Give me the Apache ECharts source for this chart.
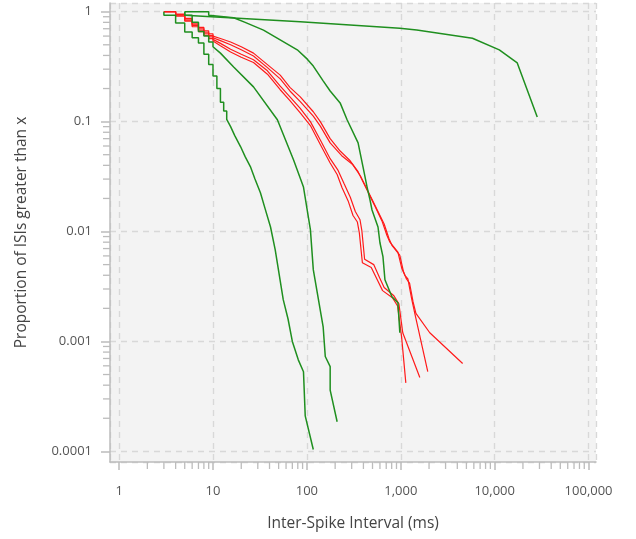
<!DOCTYPE html>
<html>
<head>
<meta charset="utf-8">
<script src="https://cdn.jsdelivr.net/npm/echarts@6/dist/echarts.min.js"></script>
<style>
html,body{margin:0;padding:0;background:#fff;}
#c{width:636px;height:539px;}
</style>
</head>
<body>
<div id="c"></div>
<script>
// ---- axis ranges / ticks ----
const X_MIN = 0.8, X_MAX = 120000;
const Y_MIN = 0.00008, Y_MAX = 1.2;
const xMinorTicks = [2,3,4,5,6,7,8,9,20,30,40,50,60,70,80,90,200,300,400,500,600,700,800,900,
  2000,3000,4000,5000,6000,7000,8000,9000,20000,30000,40000,50000,60000,70000,80000,90000];
const yMinorTicks = [0.0002,0.0003,0.0004,0.0005,0.0006,0.0007,0.0008,0.0009,
  0.002,0.003,0.004,0.005,0.006,0.007,0.008,0.009,
  0.02,0.03,0.04,0.05,0.06,0.07,0.08,0.09,
  0.2,0.3,0.4,0.5,0.6,0.7,0.8,0.9];

// ---- green series (survival curves of ISIs) ----
const green1 = [[5,1],[5,0.93],[85,0.81],[977,0.706],[1480,0.682],[5800,0.573],[11200,0.449],[17400,0.342],[28400,0.11]];
const green2 = [[5,1],[9,1],[9,0.93],[16.6,0.88],[22,0.8],[34.5,0.68],[79,0.45],[101,0.37],[117,0.32],[149,0.235],[177,0.19],
  [226,0.148],[268,0.104],[351,0.064],[396,0.0387],[437,0.0255],[470,0.0194],[494,0.0157],[572,0.011],[600,0.0079],
  [646,0.0059],[678,0.00364],[805,0.00255],[932,0.00225],[977,0.0012]];
const green3 = [[5,1],[5,0.93],[6,0.93],[6,0.8],[7,0.8],[7,0.66],[8,0.66],[8,0.6],[9,0.6],[9,0.53],[10,0.53],[10,0.48],[12,0.42],
  [16.6,0.314],[27,0.207],[48.5,0.104],[72,0.045],[92,0.0254],[109,0.0104],[117,0.0045],[149,0.00136],[157,0.00073],
  [177,0.00059],[177,0.00036],[210,0.000186]];
const green4 = [[3,1],[3,0.93],[4,0.93],[4,0.79],[5,0.79],[5,0.654],[6,0.654],[6,0.58],[7,0.58],[7,0.52],[8,0.52],[8,0.41],
  [9,0.41],[9,0.33],[10,0.33],[10,0.26],[11,0.26],[11,0.2],[12,0.2],[12,0.15],[13,0.15],[13,0.125],[14,0.125],[14,0.105],
  [15.4,0.09],[17,0.075],[19.7,0.059],[22,0.048],[25,0.039],[28,0.03],[32,0.0225],[36,0.016],[41,0.011],[46,0.0068],
  [56,0.0024],[63,0.0016],[70,0.001],[81,0.00068],[92,0.00053],[96,0.00021],[117,0.000104]];

// ---- red series ----
const red1 = [[3,1],[4,1],[4,0.91],[5,0.91],[5,0.82],[6,0.82],[6,0.73],[7,0.73],[7,0.66],[8,0.66],[8,0.61],[9,0.61],[9,0.57],
  [10,0.57],[10,0.54],[12,0.49],[15.4,0.43],[20,0.385],[27,0.345],[38,0.27],[52,0.195],[66,0.155],[85,0.12],[109,0.092],
  [139,0.062],[177,0.042],[210,0.033],[237,0.025],[275,0.019],[310,0.014],[345,0.0122],[362,0.0097],[390,0.0052],
  [485,0.0047],[565,0.0036],[640,0.0029],[815,0.0025],[925,0.0021],[1020,0.0011],[1132,0.00042]];
const red2 = [[3,1],[4,1],[4,0.93],[5,0.93],[5,0.84],[6,0.84],[6,0.75],[7,0.75],[7,0.68],[8,0.68],[8,0.63],[9,0.63],[9,0.59],
  [10,0.59],[10,0.56],[12,0.515],[15.4,0.455],[20,0.41],[27,0.365],[38,0.29],[52,0.21],[66,0.168],[85,0.132],[109,0.1],
  [139,0.068],[177,0.046],[215,0.036],[250,0.027],[290,0.0205],[328,0.0152],[368,0.0128],[385,0.0102],[412,0.0056],
  [515,0.005],[595,0.0038],[665,0.0031],[845,0.0026],[955,0.0022],[1050,0.0012],[1595,0.00047]];
const red3 = [[3,1],[4,1],[4,0.95],[5,0.95],[5,0.87],[6,0.87],[6,0.79],[7,0.79],[7,0.72],[8,0.72],[8,0.67],[9,0.67],[9,0.63],
  [10,0.63],[10,0.6],[12,0.57],[15.4,0.53],[20,0.48],[27,0.42],[38,0.33],[52,0.265],[66,0.205],[85,0.168],[117,0.123],
  [139,0.1],[177,0.07],[226,0.054],[289,0.044],[351,0.035],[470,0.021],[531,0.017],[630,0.0125],[713,0.0092],
  [766,0.008],[932,0.0065],[1027,0.0046],[1105,0.004],[1190,0.0037],[1311,0.0024],[1410,0.0018],[1938,0.00053]];
const red4 = [[3,1],[4,1],[4,0.94],[5,0.94],[5,0.86],[6,0.86],[6,0.77],[7,0.77],[7,0.7],[8,0.7],[8,0.65],[9,0.65],[9,0.61],
  [10,0.61],[10,0.58],[12,0.545],[15.4,0.5],[20,0.45],[27,0.395],[38,0.31],[52,0.245],[66,0.19],[85,0.152],[117,0.112],
  [139,0.091],[177,0.064],[235,0.049],[305,0.041],[372,0.032],[495,0.0196],[560,0.0158],[665,0.0117],[750,0.0086],
  [805,0.0075],[975,0.0061],[1070,0.0043],[1150,0.0037],[1240,0.0034],[1350,0.0023],[1450,0.0018],[2036,0.0012],[4560,0.00063]];

const GREEN = '#1f8f1f', RED = '#ff1a1a';
const AXIS_COL = '#bcbcbc';
const FONT = 'Open Sans';

function lineSeries(data, color, w) {
  return { type: 'line', data: data, showSymbol: false, symbol: 'none', silent: true,
    lineStyle: { color: color, width: w }, itemStyle: { color: color }, z: 3 };
}

const chart = echarts.init(document.getElementById('c'), null, { renderer: 'canvas' });
const option = {
  animation: false,
  backgroundColor: '#fff',
  grid: { left: 110, right: 40, top: 3, bottom: 77, show: true, backgroundColor: '#f3f3f3', borderWidth: 0 },
  xAxis: {
    type: 'log', logBase: 10, min: X_MIN, max: X_MAX,
    name: 'Inter-Spike Interval (ms)', nameLocation: 'middle', nameGap: 54,
    nameTextStyle: { fontFamily: FONT, fontSize: 15.5, color: '#444' },
    axisLine: { show: true, lineStyle: { color: AXIS_COL, width: 1.5 } },
    axisTick: { show: true, length: 8, lineStyle: { color: AXIS_COL, width: 1.5 } },
    axisLabel: { showMinLabel: false, showMaxLabel: false, margin: 23, fontFamily: FONT, fontSize: 13, color: '#555',
      formatter: v => Number(v).toLocaleString('en-US') },
    splitLine: { show: true, lineStyle: { color: '#d8d8d8', type: [6, 5], width: 1.3 } }
  },
  yAxis: {
    type: 'log', logBase: 10, min: Y_MIN, max: Y_MAX,
    name: 'Proportion of ISIs greater than x', nameLocation: 'middle', nameGap: 80, nameRotate: 90,
    nameTextStyle: { fontFamily: FONT, fontSize: 15.5, color: '#444' },
    axisLine: { show: true, lineStyle: { color: AXIS_COL, width: 1.5 } },
    axisTick: { show: true, length: 9, lineStyle: { color: AXIS_COL, width: 1.5 } },
    axisLabel: { showMinLabel: false, showMaxLabel: false, margin: 18, fontFamily: FONT, fontSize: 13, color: '#555',
      formatter: v => String(Number(v)) },
    splitLine: { show: true, lineStyle: { color: '#d8d8d8', type: [6, 5], width: 1.3 } }
  },
  series: [
    lineSeries(red1, RED, 1.2), lineSeries(red2, RED, 1.2), lineSeries(red3, RED, 1.2), lineSeries(red4, RED, 1.2),
    lineSeries(green1, GREEN, 1.5), lineSeries(green2, GREEN, 1.5), lineSeries(green3, GREEN, 1.5), lineSeries(green4, GREEN, 1.5),
    {
      type: 'custom', silent: true, clip: false, z: 1,
      data: xMinorTicks.map(v => [v, Y_MIN]),
      renderItem: function (params, api) {
        const p = api.coord([api.value(0), api.value(1)]);
        return { type: 'line', shape: { x1: p[0], y1: p[1], x2: p[0], y2: p[1] + 7 },
          style: { stroke: AXIS_COL, lineWidth: 1.3 } };
      }
    },
    {
      type: 'custom', silent: true, clip: false, z: 1,
      data: yMinorTicks.map(v => [X_MIN, v]),
      renderItem: function (params, api) {
        const p = api.coord([api.value(0), api.value(1)]);
        return { type: 'line', shape: { x1: p[0], y1: p[1], x2: p[0] - 7, y2: p[1] },
          style: { stroke: AXIS_COL, lineWidth: 1.3 } };
      }
    }
  ]
};
chart.setOption(option);
</script>
</body>
</html>
